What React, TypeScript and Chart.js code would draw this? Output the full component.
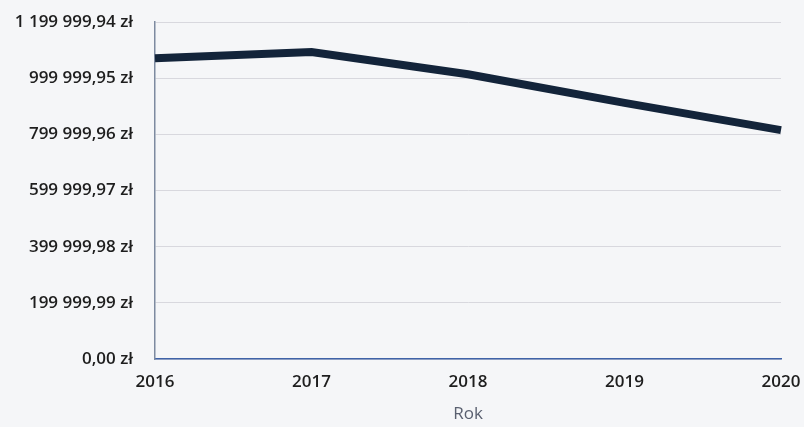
import React, { useEffect, useRef } from "react";
import { Chart, registerables } from "chart.js";

Chart.register(...registerables);

const years = ["2016", "2017", "2018", "2019", "2020"];
const values = [1071000, 1093000, 1014000, 912000, 815000];
const yTicks = [0, 199999.99, 399999.98, 599999.97, 799999.96, 999999.95, 1199999.94];
const xTitle = "Rok";

function fmt(v: number): string {
  const [intPart, dec] = v.toFixed(2).split(".");
  const grouped = intPart.replace(/\B(?=(\d{3})+(?!\d))/g, " ");
  return `${grouped},${dec} zł`;
}

export default function App() {
  const ref = useRef<HTMLCanvasElement | null>(null);
  useEffect(() => {
    if (!ref.current) return;
    const chart = new Chart(ref.current, {
      type: "line",
      data: {
        labels: years,
        datasets: [
          {
            data: values,
            borderColor: "#13243a",
            borderWidth: 8,
            pointRadius: 0,
            tension: 0,
            fill: false,
          },
        ],
      },
      options: {
        animation: false,
        responsive: false,
        layout: { padding: { top: 22, right: 23, bottom: 0, left: 0 } },
        plugins: { legend: { display: false }, tooltip: { enabled: false } },
        scales: {
          x: {
            offset: false,
            grid: { display: false, drawTicks: false },
            border: { display: true, color: "#3f63a8", width: 1.5 },
            ticks: {
              padding: 13,
              color: "#1e1e1e",
              font: { family: "'Open Sans'", size: 17, weight: 600 },
              maxRotation: 0,
            },
            title: {
              display: true,
              text: xTitle,
              color: "#5a6070",
              font: { family: "'Open Sans'", size: 17, weight: 400 },
              padding: { top: 4, bottom: 3 },
            },
            afterFit: (s: any) => {
              s.height = 68;
              s.paddingLeft = 0;
              s.paddingRight = 0;
            },
          },
          y: {
            min: 0,
            max: 1199999.94,
            afterBuildTicks: (s: any) => {
              s.ticks = yTicks.map((v) => ({ value: v }));
            },
            grid: { color: "#d8d8de", lineWidth: 1, drawTicks: false },
            border: { display: true, color: "#7d8aa0", width: 1.5 },
            ticks: {
              padding: 22,
              color: "#1e1e1e",
              font: { family: "'Open Sans'", size: 17, weight: 600 },
              callback: (v: any) => fmt(Number(v)),
            },
            afterFit: (s: any) => {
              s.width = 155;
              s.paddingTop = 0;
              s.paddingBottom = 0;
            },
          },
        },
      },
    });
    return () => chart.destroy();
  }, []);
  return (
    <div
      style={{
        position: "absolute",
        left: 0,
        top: 0,
        width: 804,
        height: 427,
        background: "#f5f6f8",
      }}
    >
      <canvas ref={ref} width={804} height={427} style={{ display: "block" }} />
    </div>
  );
}
